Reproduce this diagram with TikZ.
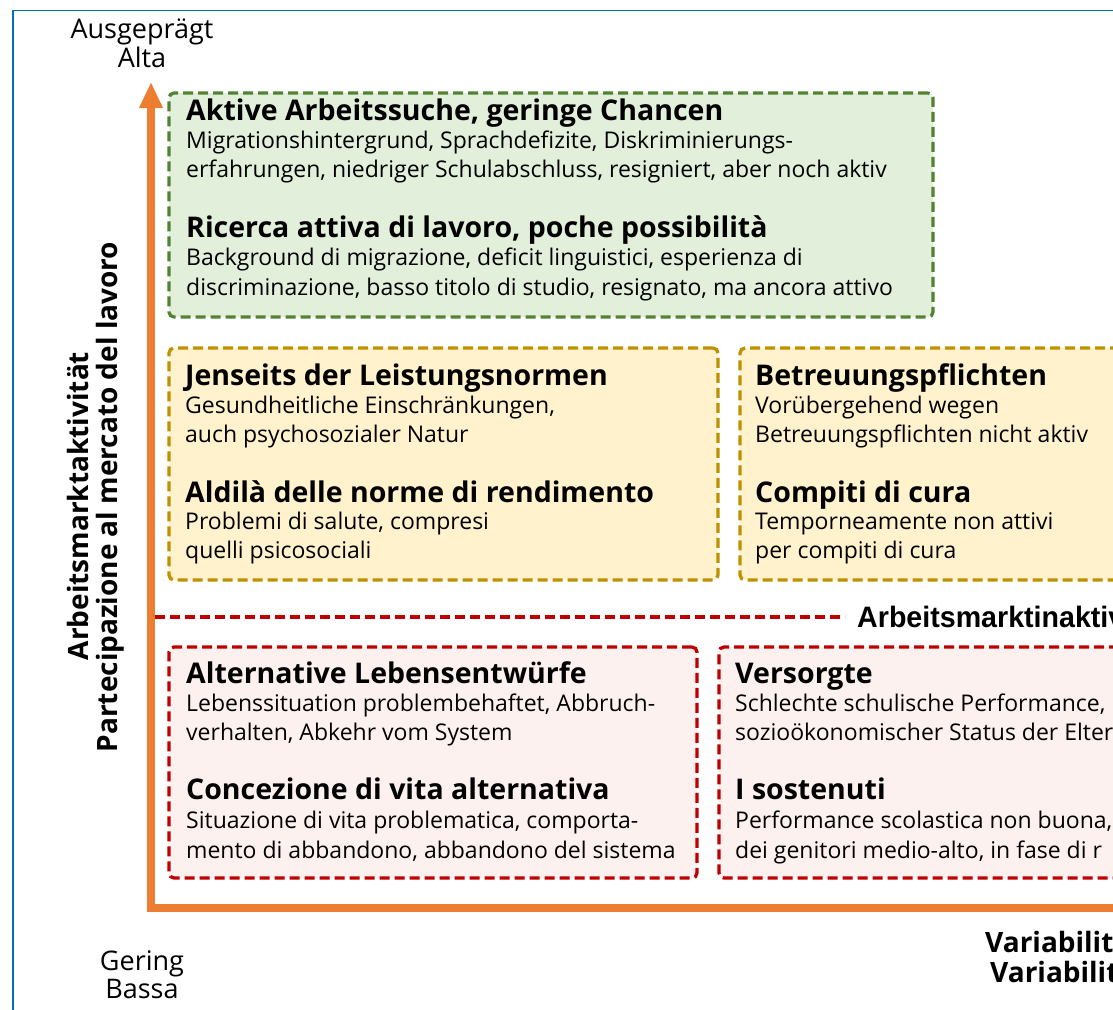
\documentclass[tikz,border=0pt]{standalone}
\usepackage{fontspec}
\setmainfont{Open Sans}
\newfontfamily\labfont[FakeStretch=0.97]{Liberation Sans}
\usetikzlibrary{arrows.meta}
\definecolor{frameblue}{HTML}{0070C0}
\definecolor{axisorange}{HTML}{ED7D31}
\definecolor{gborder}{HTML}{548235}
\definecolor{gfill}{HTML}{E2EFDA}
\definecolor{yborder}{HTML}{BF9000}
\definecolor{yfill}{HTML}{FFF2CC}
\definecolor{rborder}{HTML}{C00000}
\definecolor{rfill}{HTML}{FDF1F0}
\begin{document}
\begin{tikzpicture}[x=1pt,y=-1pt,
  boxshape/.style={rounded corners=5pt, line width=3.3pt, dash pattern=on 10pt off 5pt,
    anchor=north west, inner sep=0pt, outer sep=0pt},
  gbox/.style={boxshape, draw=gborder, fill=gfill},
  ybox/.style={boxshape, draw=yborder, fill=yfill},
  rbox/.style={boxshape, draw=rborder, fill=rfill},
  head/.style={anchor=base west, inner sep=0pt, font=\fontsize{28.5}{32}\selectfont\bfseries},
  body/.style={anchor=base west, inner sep=0pt, font=\fontsize{23}{27}\selectfont},
  level/.style={anchor=base, inner sep=0pt, font=\fontsize{27}{31}\selectfont},
  axtitle/.style={inner sep=0pt, font=\fontsize{28}{32}\selectfont\bfseries},
  axisline/.style={draw=axisorange, line width=8pt, line join=miter},
  sepline/.style={draw=rborder, line width=3.3pt, dash pattern=on 10pt off 5pt},
]
\useasboundingbox (0,0) rectangle (1113,1009);
\clip (0,0) rectangle (1113,1009);

% frame
\draw[frameblue, line width=1.5pt] (13,1030) -- (13,10.5) -- (1130,10.5);

% axes
\coordinate (origin) at (151,908);
\coordinate (ytip) at (151,82);
\coordinate (xend) at (1130,908);
\draw[axisline, -{Triangle[length=26pt,width=22pt]}] (xend) -- (origin) -- (ytip);

% level labels
\node[level] (hi1) at (142,38) {Ausgeprägt};
\node[level] (hi2) at (142,67) {Alta};
\node[level] (lo1) at (142,970) {Gering};
\node[level] (lo2) at (142,998) {Bassa};

% y axis title
\node[axtitle, rotate=90, anchor=base] (yt1) at (88,506) {Arbeitsmarktaktivität};
\node[axtitle, rotate=90, anchor=base] (yt2) at (117,497) {Partecipazione al mercato del lavoro};

% x axis title (cut at right edge, as in the reference)
\node[axtitle, anchor=base west] (xt1) at (985,952) {Variabilit};
\node[axtitle, anchor=base west] (xt2) at (990,982) {Variabilit};

% green box
\node[gbox, minimum width=764pt, minimum height=224pt] (green) at (169,93) {};
\node[head] (g1h) at (186,120) {Aktive Arbeitssuche, geringe Chancen};
\node[body] (g1a) at (186,148) {Migrationshintergrund, Sprachdefizite, Diskriminierungs-};
\node[body] (g1b) at (186,177) {erfahrungen, niedriger Schulabschluss, resigniert, aber noch aktiv};
\node[head] (g2h) at (186,237) {Ricerca attiva di lavoro, poche possibilità};
\node[body] (g2a) at (186,265) {Background di migrazione, deficit linguistici, esperienza di};
\node[body] (g2b) at (186,295) {discriminazione, basso titolo di studio, resignato, ma ancora attivo};

% yellow boxes
\node[ybox, minimum width=549pt, minimum height=232pt] (yleft) at (169,348) {};
\node[head] (y1h) at (185,385) {Jenseits der Leistungsnormen};
\node[body] (y1a) at (185,413) {Gesundheitliche Einschränkungen,};
\node[body] (y1b) at (185,442) {auch psychosozialer Natur};
\node[head] (y2h) at (185,502) {Aldilà delle norme di rendimento};
\node[body] (y2a) at (185,529) {Problemi di salute, compresi};
\node[body] (y2b) at (185,558) {quelli psicosociali};

\node[ybox, minimum width=400pt, minimum height=232pt] (yright) at (740,348) {};
\node[head] (y3h) at (755,385) {Betreuungspflichten};
\node[body] (y3a) at (755,413) {Vorübergehend wegen};
\node[body] (y3b) at (755,442) {Betreuungspflichten nicht aktiv};
\node[head] (y4h) at (755,502) {Compiti di cura};
\node[body] (y4a) at (755,529) {Temporneamente non attivi};
\node[body] (y4b) at (755,558) {per compiti di cura};

% separator
\coordinate (sepstart) at (155,617);
\node[anchor=base west, inner sep=0pt, font=\labfont\fontsize{29.5}{32}\selectfont\bfseries] (inactive) at (857,627) {Arbeitsmarktinaktiv};
\draw[sepline] (sepstart) -- ([xshift=-12pt]inactive.west |- sepstart);

% red boxes
\node[rbox, minimum width=528pt, minimum height=231pt] (rleft) at (169,647) {};
\node[head] (r1h) at (186,683) {Alternative Lebensentwürfe};
\node[body] (r1a) at (186,711) {Lebenssituation problembehaftet, Abbruch-};
\node[body] (r1b) at (186,740) {verhalten, Abkehr vom System};
\node[head] (r2h) at (186,799) {Concezione di vita alternativa};
\node[body] (r2a) at (186,828) {Situazione di vita problematica, comporta-};
\node[body] (r2b) at (186,858) {mento di abbandono, abbandono del sistema};

\node[rbox, minimum width=420pt, minimum height=231pt] (rright) at (719,647) {};
\node[head] (r3h) at (735,683) {Versorgte};
\node[body] (r3a) at (735,711) {Schlechte schulische Performance,};
\node[body] (r3b) at (735,740) {sozioökonomischer Status der Eltern};
\node[head] (r4h) at (735,799) {I sostenuti};
\node[body] (r4a) at (735,828) {Performance scolastica non buona,};
\node[body] (r4b) at (735,858) {dei genitori medio-alto, in fase di r};
\end{tikzpicture}
\end{document}
